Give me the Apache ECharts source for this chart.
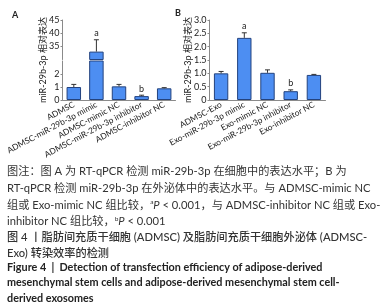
<!DOCTYPE html>
<html><head><meta charset="utf-8">
<script src="https://cdn.jsdelivr.net/npm/echarts@6/dist/echarts.min.js"></script>
<style>html,body{margin:0;padding:0;background:#fff}#c{width:384px;height:307px}</style>
</head><body><div id="c"></div>
<script>
const catsA = ['ADMSC','ADMSC-miR-29b-3p mimic','ADMSC-mimic NC','ADMSC-miR-29b-3p inhibitor','ADMSC-inhibitor NC'];
const meanA = [1.0, 33.0, 1.05, 0.3, 0.9];
const errA  = [0.2, 4.5, 0.15, 0.07, 0.05];
const sigA  = ['', 'a', '', 'b', ''];
const catsB = ['ADMSC-Exo','Exo-miR-29b-3p mimic','Exo-mimic NC','Exo-miR-29b-3p inhibitor','Exo-inhibitor NC'];
const meanB = [1.0, 2.33, 1.02, 0.33, 0.94];
const errB  = [0.07, 0.19, 0.11, 0.05, 0.02];
const sigB  = ['', 'a', '', 'b', ''];
const breakLow = 3, breakHigh = 30;
const yTitle = 'miR-29b-3p 相对表达';

const FONT = "Lato, 'Noto Sans CJK SC', sans-serif";
const barColor = '#4d8ef2', barEdge = '#24437e', axisCol = '#8a8a8a', txt = '#222';

function errRender(sigs){
  return function(params, api){
    const i = api.value(0);
    const top = api.coord([i, api.value(1) + api.value(2)]);
    const base = api.coord([i, api.value(1)]);
    const w = 5;
    const ch = [
      {type:'line', shape:{x1:base[0], y1:base[1], x2:top[0], y2:top[1]}, style:{stroke:'#333', lineWidth:1}},
      {type:'line', shape:{x1:top[0]-w/2, y1:top[1], x2:top[0]+w/2, y2:top[1]}, style:{stroke:'#333', lineWidth:1}}
    ];
    if (sigs[i]) ch.push({type:'text', x: top[0], y: top[1]-2, style:{text: sigs[i], fontSize:9, fontFamily:FONT, fill:txt, align:'center', verticalAlign:'bottom'}});
    return {type:'group', children: ch};
  };
}
const errDataA = meanA.map((v,i)=>[i, v, errA[i]]);
const errDataB = meanB.map((v,i)=>[i, v, errB[i]]);

const xCommon = (cats, show) => ({
  type:'category', data:cats,
  axisLine:{show:show, lineStyle:{color:axisCol}},
  axisTick:{show:false},
  axisLabel:{show:show, rotate:28, fontSize:8.3, fontFamily:FONT, color:txt, margin:4, interval:0}
});
const yCommon = (min,max,interval,extra) => Object.assign({
  type:'value', min, max, interval,
  splitLine:{show:false},
  axisLine:{show:true, lineStyle:{color:axisCol}},
  axisTick:{show:true, length:2, lineStyle:{color:axisCol}},
  axisLabel:{fontSize:9, fontFamily:FONT, color:txt, margin:3}
}, extra||{});

const barStyle = {color:barColor, borderColor:barEdge, borderWidth:1};

const capLines = [
 {t:'图注：图 A 为 RT-qPCR 检测 miR-29b-3p 在细胞中的表达水平；B 为', y:171},
 {t:'RT-qPCR 检测 miR-29b-3p 在外泌体中的表达水平。与 ADMSC-mimic NC', y:188},
 {t:'组或 Exo-mimic NC 组比较，{s|a}{i|P} < 0.001，与 ADMSC-inhibitor NC 组或 Exo-', y:205},
 {t:'inhibitor NC 组比较，{s|b}{i|P} < 0.001', y:221.5},
 {t:'图 4 丨脂肪间充质干细胞 (ADMSC) 及脂肪间充质干细胞外泌体 (ADMSC-', y:237.5},
 {t:'Exo) 转染效率的检测', y:253.5}
];
const enLines = [
 {t:'Figure 4  |  Detection of transfection efficiency of adipose-derived', y:267.5},
 {t:'mesenchymal stem cells and adipose-derived mesenchymal stem cell-', y:283},
 {t:'derived exosomes', y:298.5}
];
const graphics = [
  {type:'text', x:12, y:11, style:{text:'A', fontSize:9, fontWeight:'bold', fontFamily:FONT, fill:txt}},
  {type:'text', x:175, y:9, style:{text:'B', fontSize:9, fontWeight:'bold', fontFamily:FONT, fill:txt}},
  {type:'text', x:43, y:60, rotation:Math.PI/2, style:{text:yTitle, fontSize:9, fontFamily:FONT, fill:txt, align:'center', verticalAlign:'middle'}},
  {type:'text', x:188, y:60, rotation:Math.PI/2, style:{text:yTitle, fontSize:9, fontFamily:FONT, fill:txt, align:'center', verticalAlign:'middle'}}
];
const CS = 11.2;
capLines.forEach((l,k)=>graphics.push({type:'text', x:7, y:l.y, style:{
  text:l.t, fontSize:CS, fontFamily:FONT, fill:'#333', verticalAlign:'middle', fontWeight: k>=4 ? 500 : 'normal',
  rich:{s:{fontSize:6.5, verticalAlign:'top', fontFamily:FONT, fill:'#333', padding:[0,0,6,0]}, i:{fontStyle:'italic', fontSize:CS, fontFamily:FONT, fill:'#333'}}
}}));
enLines.forEach(l=>graphics.push({type:'text', x:7, y:l.y, style:{
  text:l.t, fontSize:10.8, fontWeight:'bold', fontFamily:FONT, fill:'#222', verticalAlign:'middle'}}));

const chart = echarts.init(document.getElementById('c'), null, {renderer:'canvas'});
chart.setOption({
  animation:false,
  grid:[
    {left:62.5, width:113, top:20, height:39.5},
    {left:62.5, width:113, top:61, height:39},
    {left:209.5, width:116, top:20, height:80}
  ],
  xAxis:[ xCommon(catsA,false), Object.assign(xCommon(catsA,true),{gridIndex:1}), Object.assign(xCommon(catsB,true),{gridIndex:2}) ],
  yAxis:[
    yCommon(breakHigh,45,5,{gridIndex:0, axisLabel:{fontSize:9, fontFamily:FONT, color:txt, margin:3, showMinLabel:false}}),
    yCommon(0,breakLow,1,{gridIndex:1, axisLabel:{fontSize:9, fontFamily:FONT, color:txt, margin:3, showMaxLabel:false}}),
    yCommon(0,3,0.5,{gridIndex:2, axisLabel:{fontSize:9, fontFamily:FONT, color:txt, margin:3, formatter:v=> v===0?'0':v.toFixed(1)}})
  ],
  series:[
    {type:'bar', xAxisIndex:0, yAxisIndex:0, barWidth:'64%', clip:true, itemStyle:barStyle, data: meanA.map(v=> v>breakHigh ? v : '-')},
    {type:'bar', xAxisIndex:1, yAxisIndex:1, barWidth:'64%', clip:true, itemStyle:barStyle, data: meanA},
    {type:'bar', xAxisIndex:2, yAxisIndex:2, barWidth:'62%', itemStyle:barStyle, data: meanB},
    {type:'custom', xAxisIndex:0, yAxisIndex:0, z:5, renderItem:errRender(sigA), encode:{x:0,y:1}, data: errDataA.filter(d=>d[1]>breakHigh)},
    {type:'custom', xAxisIndex:1, yAxisIndex:1, z:5, renderItem:errRender(sigA), encode:{x:0,y:1}, data: errDataA.filter(d=>d[1]+d[2]<=breakLow)},
    {type:'custom', xAxisIndex:2, yAxisIndex:2, z:5, renderItem:errRender(sigB), encode:{x:0,y:1}, data: errDataB}
  ],
  graphic: graphics
});
</script></body></html>
